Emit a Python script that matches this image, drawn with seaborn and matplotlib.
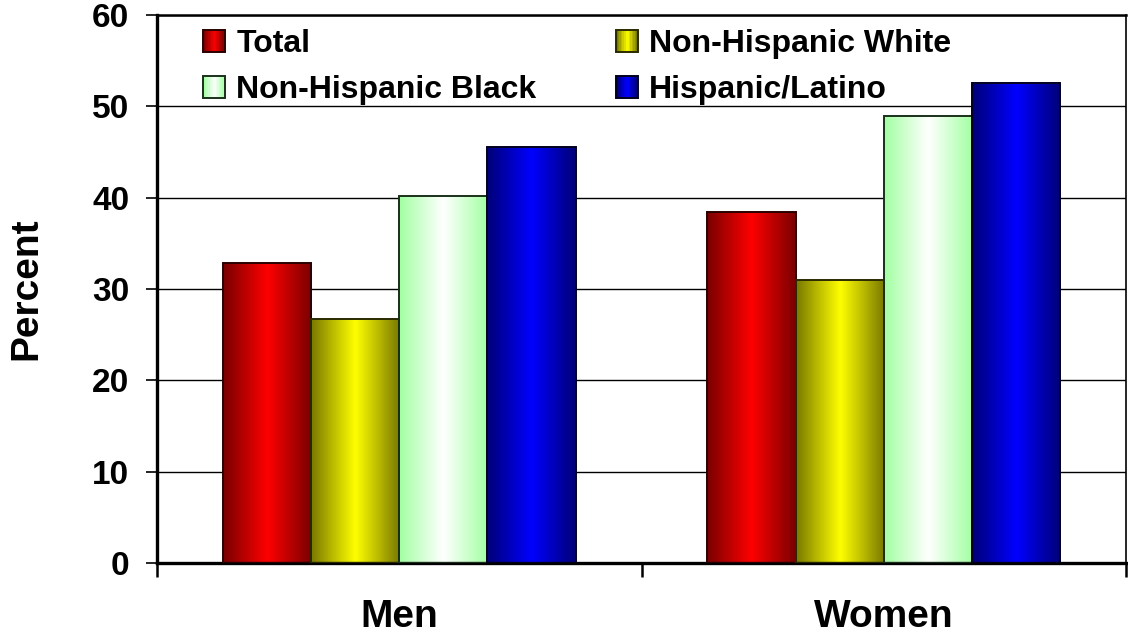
import numpy as np
import pandas as pd
import matplotlib
matplotlib.use("Agg")
import matplotlib.pyplot as plt
from matplotlib.patches import Rectangle, Patch
from matplotlib.legend_handler import HandlerBase
from matplotlib.colors import to_rgb
import seaborn as sns

# Data
sexes = ["Men", "Women"]
groups = ["Total", "Non-Hispanic White", "Non-Hispanic Black", "Hispanic/Latino"]
men_values = [32.8, 26.7, 40.2, 45.5]
women_values = [38.4, 31.0, 48.9, 52.5]
yticks = [0, 10, 20, 30, 40, 50, 60]

# Edge and centre colours of each group's cylinder shading
edge_colors = ["#7a0000", "#7a7a00", "#a3ffa3", "#000078"]
center_colors = ["#ff0000", "#ffff00", "#ffffff", "#0000ff"]
outline_colors = ["#2a0000", "#2a2a00", "#1a301a", "#00001e"]

df = pd.DataFrame({
    "sex": np.repeat(sexes, len(groups)),
    "group": groups * len(sexes),
    "percent": men_values + women_values,
})

sns.set_theme(style="white")
plt.rcParams["font.family"] = ["Liberation Sans", "DejaVu Sans"]
plt.rcParams["font.weight"] = "bold"
plt.rcParams["text.color"] = "black"
plt.rcParams["axes.labelcolor"] = "black"
plt.rcParams["xtick.color"] = "black"
plt.rcParams["ytick.color"] = "black"

fig = plt.figure(figsize=(11.28, 6.39), dpi=100)
ax = fig.add_axes([157 / 1128, 76 / 639, 969 / 1128, 548 / 639])

sns.barplot(data=df, x="sex", y="percent", hue="group", order=sexes,
            hue_order=groups, palette=center_colors, width=0.728, gap=0,
            legend=False, ax=ax, saturation=1, err_kws={"linewidth": 0})


def gradient_row(c_edge, c_mid, n=64):
    e = np.array(to_rgb(c_edge))
    m = np.array(to_rgb(c_mid))
    t = 1 - np.abs(np.linspace(-1, 1, n))
    return e[None, :] * (1 - t[:, None]) + m[None, :] * t[:, None]


# Replace each flat bar with a horizontal cylinder gradient
bars = [p for p in ax.patches if isinstance(p, Rectangle)]
for i, bar in enumerate(bars):
    gi = i // len(sexes)
    x, y = bar.get_x(), bar.get_y()
    w, h = bar.get_width(), bar.get_height()
    img = gradient_row(edge_colors[gi], center_colors[gi])[None, :, :]
    im = ax.imshow(img, extent=(x, x + w, y, y + h), aspect="auto",
                   interpolation="bilinear", zorder=2)
    im.set_clip_path(bar)
    bar.set_facecolor("none")
    bar.set_edgecolor(outline_colors[gi])
    bar.set_linewidth(1.4)
    bar.set_zorder(3)

ax.set_xlim(-0.5, 1.5)
ax.set_ylim(0, 60)
ax.set_yticks(yticks)
ax.set_yticklabels([str(v) for v in yticks], fontsize=24, fontweight="bold")
ax.yaxis.grid(True, color="black", linewidth=1.0)
ax.set_axisbelow(True)

ax.set_xticks([-0.5, 0.5, 1.5])
ax.set_xticklabels([])
ax.set_xticks([0, 1], minor=True)
ax.set_xticklabels(sexes, minor=True, fontsize=28, fontweight="bold")
ax.tick_params(axis="x", which="major", direction="out", length=10,
               width=1.8, color="black", bottom=True)
ax.tick_params(axis="x", which="minor", length=0, pad=26)
ax.tick_params(axis="y", direction="out", length=8, width=1.2,
               color="black", left=True, pad=12)

ax.set_xlabel("")
ax.set_ylabel("Percent", fontsize=28, fontweight="bold", labelpad=34)

for side in ["left", "bottom"]:
    ax.spines[side].set_visible(True)
    ax.spines[side].set_color("black")
    ax.spines[side].set_linewidth(2.4)
ax.spines["top"].set_visible(True)
ax.spines["top"].set_color("black")
ax.spines["top"].set_linewidth(1.8)
ax.spines["right"].set_visible(True)
ax.spines["right"].set_color("black")
ax.spines["right"].set_linewidth(1.2)


class GradientHandler(HandlerBase):
    def __init__(self, c_edge, c_mid, c_out, n=14):
        super().__init__()
        self.c_edge, self.c_mid, self.c_out, self.n = c_edge, c_mid, c_out, n

    def create_artists(self, legend, orig_handle, xdescent, ydescent,
                       width, height, fontsize, trans):
        size = min(width, height)
        x0 = -xdescent
        y0 = -ydescent + (height - size) / 2
        cols = gradient_row(self.c_edge, self.c_mid, self.n)
        step = size / self.n
        arts = []
        for k in range(self.n):
            r = Rectangle((x0 + k * step, y0), step * 1.05, size,
                          facecolor=cols[k], edgecolor="none", transform=trans)
            arts.append(r)
        arts.append(Rectangle((x0, y0), size, size, facecolor="none",
                              edgecolor=self.c_out, linewidth=1.4,
                              transform=trans))
        return arts


# Legend entries laid out row by row over two columns
legend_order = [0, 2, 1, 3]
handles = [Patch(label=groups[i]) for i in legend_order]
hmap = {h: GradientHandler(edge_colors[i], center_colors[i], outline_colors[i])
        for h, i in zip(handles, legend_order)}
leg = ax.legend(handles=handles, labels=[groups[i] for i in legend_order],
                handler_map=hmap, ncol=2, loc="upper left",
                bbox_to_anchor=(0.033, 1.0), frameon=False,
                prop={"size": 23, "weight": "bold"}, handlelength=0.68,
                handleheight=0.68, handletextpad=0.35, columnspacing=2.5,
                labelspacing=0.5, borderaxespad=0.05)

fig.savefig("out.png", dpi=100)
